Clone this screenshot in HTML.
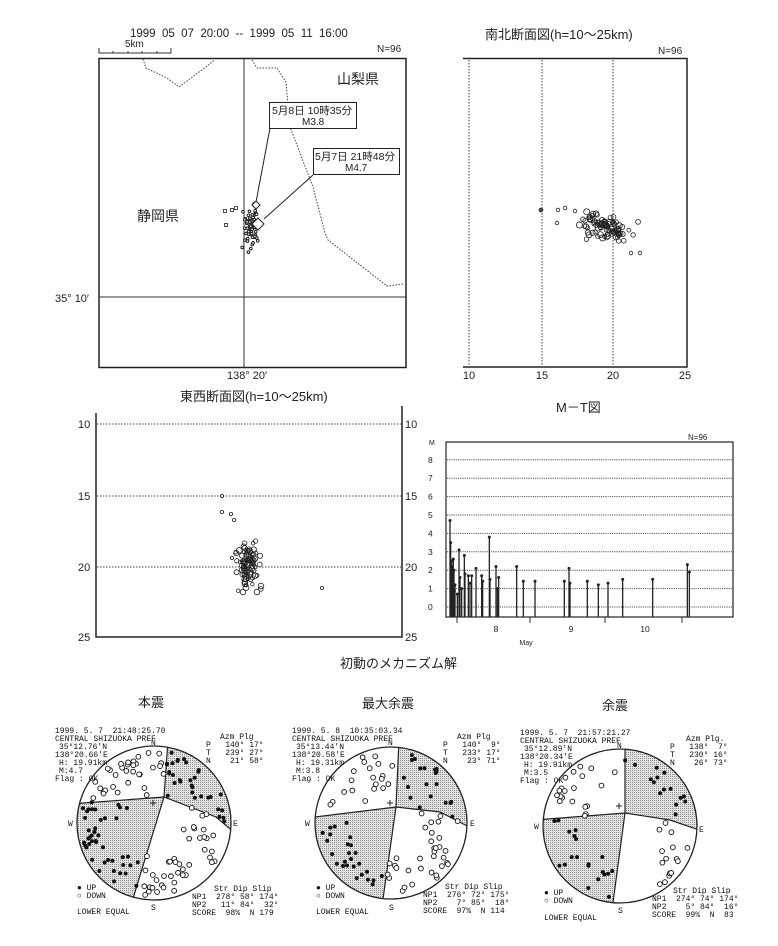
<!DOCTYPE html>
<html><head><meta charset="utf-8">
<style>
html,body{margin:0;padding:0;background:#fff;}
svg{display:block;}
text{white-space:pre;}
.j{font-family:"Liberation Sans","Noto Sans CJK JP",sans-serif;fill:#222;}
.s{font-family:"Liberation Sans",sans-serif;fill:#222;}
.m{font-family:"Liberation Mono",monospace;fill:#111;font-size:8px;}
</style></head><body>
<svg id="sv" width="778" height="946" viewBox="0 0 778 946" xmlns="http://www.w3.org/2000/svg" xml:space="preserve">
<defs>
<clipPath id="c1"><circle cx="154" cy="823" r="77"/></clipPath>
<clipPath id="c2"><circle cx="391" cy="823" r="76"/></clipPath>
<clipPath id="c3"><circle cx="620" cy="826" r="77"/></clipPath>
<pattern id="hat" width="2" height="2" patternUnits="userSpaceOnUse"><rect width="2" height="2" fill="#e4e4e4"/><rect width="1" height="1" fill="#8a8a8a"/></pattern>
</defs>

<!-- ===== MAP ===== -->
<text class="s" x="130" y="37" font-size="11.5">1999  05  07  20:00  --  1999  05  11  16:00</text>
<text class="s" x="125" y="47" font-size="10">5km</text>
<path d="M99,48 V53 H171 V48 M113,53 v-2 M128,53 v-2 M142,53 v-2 M157,53 v-2" stroke="#333" fill="none" stroke-width="1"/>
<text class="s" x="377" y="52" font-size="10">N=96</text>
<rect x="99" y="58.5" width="307" height="309" fill="none" stroke="#222" stroke-width="1.5"/>
<line x1="244" y1="59" x2="244" y2="367" stroke="#333"/>
<line x1="99" y1="297" x2="406" y2="297" stroke="#333"/>
<polyline points="143,59 146,68 167,78 179,87 215,60" fill="none" stroke="#444" stroke-dasharray="1.5,1.5"/>
<polyline points="252,60 257,68 277,68 286,82 290,127 313,187 325,233 328,240 387,286 404,284" fill="none" stroke="#444" stroke-dasharray="1.5,1.5"/>
<text class="j" x="337" y="84" font-size="14">山梨県</text>
<text class="j" x="137" y="221" font-size="14">静岡県</text>
<rect x="269.5" y="102.5" width="87" height="26" fill="#fff" stroke="#222"/>
<text class="j" x="272" y="114" font-size="10.5">5月8日 10時35分</text>
<text class="j" x="302" y="125" font-size="10">M3.8</text>
<rect x="313.5" y="148.5" width="86" height="26" fill="#fff" stroke="#222"/>
<text class="j" x="315" y="160" font-size="10.5">5月7日 21時48分</text>
<text class="j" x="345" y="171" font-size="10">M4.7</text>
<line x1="270" y1="128" x2="256" y2="202" stroke="#222"/>
<line x1="313" y1="175" x2="264" y2="219" stroke="#222"/>
<g id="mapdots"></g>
<path d="M256,201 l4,4 l-4,4 l-4,-4z" fill="#fff" stroke="#222"/>
<path d="M258,218 l6,6 l-6,6 l-6,-6z" fill="#fff" stroke="#222"/>
<text class="s" x="55" y="302" font-size="11">35° 10′</text>
<text class="s" x="227" y="379" font-size="11">138° 20′</text>

<!-- ===== N-S SECTION ===== -->
<text class="j" x="485" y="39" font-size="13">南北断面図(h=10～25km)</text>
<text class="s" x="658" y="54" font-size="10">N=96</text>
<path d="M463,58.5 H687 V367 H463" fill="none" stroke="#222" stroke-width="1.5"/>
<g stroke="#444" stroke-dasharray="1.5,1.5"><line x1="469" y1="60" x2="469" y2="366"/><line x1="542" y1="60" x2="542" y2="366"/><line x1="613" y1="60" x2="613" y2="366"/></g>
<g class="s" font-size="11" text-anchor="middle"><text x="469" y="379">10</text><text x="542" y="379">15</text><text x="613" y="379">20</text><text x="685" y="379">25</text></g>
<g id="nsdots"></g>

<!-- ===== E-W SECTION ===== -->
<text class="j" x="180" y="401" font-size="13">東西断面図(h=10～25km)</text>
<path d="M96,413 V637 H402 V406" fill="none" stroke="#222" stroke-width="1.5"/>
<g stroke="#444" stroke-dasharray="1.5,1.5"><line x1="97" y1="424" x2="401" y2="424"/><line x1="97" y1="496" x2="401" y2="496"/><line x1="97" y1="567" x2="401" y2="567"/></g>
<g class="s" font-size="11"><text x="78" y="428">10</text><text x="78" y="500">15</text><text x="78" y="571">20</text><text x="78" y="641">25</text>
<text x="405" y="428">10</text><text x="405" y="500">15</text><text x="405" y="571">20</text><text x="405" y="641">25</text></g>
<g id="ewdots"></g>

<!-- ===== M-T ===== -->
<text class="j" x="556" y="412" font-size="13">M－T図</text>
<text class="s" x="688" y="440" font-size="8">N=96</text>
<rect x="446" y="442" width="287" height="175" fill="none" stroke="#222" stroke-width="1.2"/>
<g id="mtgrid" stroke="#555" stroke-dasharray="1.2,1"></g>
<g class="s" font-size="8.5" id="mtlab"><text x="429" y="445" font-size="7">M</text></g>
<g id="mtbars"></g>
<g stroke="#333"><line x1="457" y1="617" x2="457" y2="623"/><line x1="530" y1="617" x2="530" y2="623"/><line x1="605" y1="617" x2="605" y2="623"/><line x1="682" y1="617" x2="682" y2="623"/></g>
<g class="s" font-size="8.5" text-anchor="middle"><text x="496" y="632">8</text><text x="571" y="632">9</text><text x="645" y="632">10</text><text x="526" y="645" font-size="7">May</text></g>

<!-- ===== MECHANISMS ===== -->
<text class="j" x="340" y="668" font-size="13">初動のメカニズム解</text>
<text class="j" x="138" y="707" font-size="13">本震</text>
<text class="j" x="362" y="708" font-size="13">最大余震</text>
<text class="j" x="602" y="710" font-size="13">余震</text>

<g id="mech"></g>

<g class="m">
<text x="55" y="733">1999. 5. 7  21:48:25.70</text>
<text x="55" y="741">CENTRAL SHIZUOKA PREF</text>
<text x="59" y="749">35°12.76'N</text>
<text x="55" y="757">138°20.66'E</text>
<text x="59" y="765">H: 19.91km</text>
<text x="59" y="773">M:4.7</text>
<text x="55" y="781">Flag : OK</text>
<text x="220" y="739">Azm Plg</text>
<text x="206" y="747">P   140° 17°</text>
<text x="206" y="755">T   239° 27°</text>
<text x="206" y="763">N    21° 58°</text>
<text x="214" y="891">Str Dip Slip</text>
<text x="192" y="899">NP1  278° 58° 174°</text>
<text x="192" y="907">NP2   11° 84°  32°</text>
<text x="192" y="915">SCORE  98%  N 179</text>
<text x="77" y="890">● UP</text>
<text x="77" y="898">○ DOWN</text>
<text x="77" y="914">LOWER EQUAL</text>
<text x="151" y="745">N</text><text x="151" y="910">S</text><text x="68" y="826">W</text><text x="233" y="826">E</text>

<text x="292" y="733">1999. 5. 8  10:35:03.34</text>
<text x="292" y="741">CENTRAL SHIZUOKA PREF</text>
<text x="296" y="749">35°13.44'N</text>
<text x="292" y="757">138°20.58'E</text>
<text x="296" y="765">H: 19.31km</text>
<text x="296" y="773">M:3.8</text>
<text x="292" y="781">Flag : OK</text>
<text x="457" y="739">Azm Plg</text>
<text x="443" y="747">P   140°  9°</text>
<text x="443" y="755">T   233° 17°</text>
<text x="443" y="763">N    23° 71°</text>
<text x="445" y="889">Str Dip Slip</text>
<text x="423" y="897">NP1  276° 72° 175°</text>
<text x="423" y="905">NP2    7° 85°  18°</text>
<text x="423" y="913">SCORE  97%  N 114</text>
<text x="316" y="890">● UP</text>
<text x="316" y="898">○ DOWN</text>
<text x="316" y="914">LOWER EQUAL</text>
<text x="388" y="745">N</text><text x="389" y="910">S</text><text x="305" y="826">W</text><text x="470" y="826">E</text>

<text x="520" y="735">1999. 5. 7  21:57:21.27</text>
<text x="520" y="743">CENTRAL SHIZUOKA PREF</text>
<text x="524" y="751">35°12.89'N</text>
<text x="520" y="759">138°20.34'E</text>
<text x="524" y="767">H: 19.91km</text>
<text x="524" y="775">M:3.5</text>
<text x="520" y="783">Flag : OK</text>
<text x="686" y="741">Azm Plg.</text>
<text x="670" y="749">P   138°  7°</text>
<text x="670" y="757">T   230° 16°</text>
<text x="670" y="765">N    26° 73°</text>
<text x="673" y="893">Str Dip Slip</text>
<text x="652" y="901">NP1  274° 74° 174°</text>
<text x="652" y="909">NP2    5° 84°  16°</text>
<text x="652" y="917">SCORE  99%  N  83</text>
<text x="544" y="895">● UP</text>
<text x="544" y="903">○ DOWN</text>
<text x="544" y="920">LOWER EQUAL</text>
<text x="617" y="748">N</text><text x="618" y="913">S</text><text x="534" y="829">W</text><text x="699" y="832">E</text>
</g>
</svg>
<script>
(function(){
var NS="http://www.w3.org/2000/svg";
var seed=12345;function r(){seed=(seed*16807)%2147483647;return (seed-1)/2147483646;}
function el(p,t,a){var e=document.createElementNS(NS,t);for(var k in a)e.setAttribute(k,a[k]);p.appendChild(e);return e;}
function g(id){return document.getElementById(id);}
function gauss(){return (r()+r()+r()-1.5)/1.5;}
var md=g("mapdots");
for(var i=0;i<70;i++){var x=251+gauss()*12,y=230+gauss()*28;el(md,"circle",{cx:x,cy:y,r:1.3,fill:"#fff",stroke:"#222","stroke-width":1});}
[[225,211],[232,210],[236,208],[226,225]].forEach(function(p){el(md,"rect",{x:p[0]-1.5,y:p[1]-1.5,width:3,height:3,fill:"#fff",stroke:"#222","stroke-width":0.8});});
var nd=g("nsdots");
for(var i=0;i<90;i++){var x=604+gauss()*36,y=228+gauss()*20+(x-604)*0.2;el(nd,"circle",{cx:x,cy:y,r:1.8+r()*1.3,fill:"none",stroke:"#222","stroke-width":0.8});}
el(nd,"circle",{cx:541,cy:210,r:1.8,fill:"#555",stroke:"#222"});
[[558,210],[565,208],[575,211],[557,223],[640,253],[631,253]].forEach(function(p){el(nd,"circle",{cx:p[0],cy:p[1],r:1.8,fill:"none",stroke:"#222","stroke-width":0.8});});
var ed=g("ewdots");
for(var i=0;i<85;i++){var x=248+gauss()*15,y=563+gauss()*32;el(ed,"circle",{cx:x,cy:y,r:1.7+r()*1.3,fill:"none",stroke:"#222","stroke-width":0.8});}
[[222,496],[222,512],[231,514],[234,520],[232,558],[322,588],[243,592],[257,592],[261,586]].forEach(function(p,k){el(ed,"circle",{cx:p[0],cy:p[1],r:k>5?2.8:1.6,fill:"none",stroke:"#222","stroke-width":0.8});});
var mg=g("mtgrid"),ml=g("mtlab");
for(var m=0;m<=8;m++){var y=607-m*18.4;el(mg,"line",{x1:447,y1:y,x2:732,y2:y});var t=el(ml,"text",{x:428,y:y+3});t.textContent=m;}
var bars=[[150,4.7],[152,3.5],[155,2.5],[157,2.2],[160,2.6],[162,2.0],[165,1.2],[172,0.7],[177,3.1],[180,1.6],[185,1.0],[193,2.8],[195,1.8],[205,1.7],[210,1.3],[215,1.7],[228,2.1],[245,1.7],[248,1.4],[268,3.8],[270,1.5],[288,2.2],[292,1.0],[296,1.6],[350,2.2],[370,1.4],[405,1.4],[493,1.4],[507,2.1],[510,1.3],[562,1.4],[595,1.2],[624,1.3],[668,1.5],[758,1.5],[862,2.3],[868,1.9],[153,1.9],[156,1.5],[158,1.2],[163,0.9]];
var mb=g("mtbars");
bars.forEach(function(b){var x=400+b[0]/3,y=607-b[1]*18.4;el(mb,"line",{x1:x,y1:617,x2:x,y2:y,stroke:"#222","stroke-width":1.3});el(mb,"circle",{cx:x,cy:y,r:1.5,fill:"#222"});});
var mech=[
 {c:[154,823],R:77,cl:"c1",L:[[168,740],[164,797],[131,905]],C:[[70,804],[164,797],[216,817],[236,834]]},
 {c:[391,823],R:76,cl:"c2",L:[[399,740],[396,807],[382,906]],C:[[307,818],[396,807],[440,812],[475,830]]},
 {c:[620,826],R:77,cl:"c3",L:[[625,742],[625,813],[612,910]],C:[[535,820],[625,813],[670,820],[705,832]]}];
var mp=g("mech");
function interp(pts,v,a,b){for(var i=0;i<pts.length-1;i++){var p=pts[i],q=pts[i+1];if((v>=p[a]&&v<=q[a])||(v<=p[a]&&v>=q[a])||i==pts.length-2){var t=(v-p[a])/((q[a]-p[a])||1);return p[b]+t*(q[b]-p[b]);}}}
mech.forEach(function(M,k){
 var cx=M.c[0],cy=M.c[1],R=M.R,L=M.L,C=M.C;
 var gg=el(mp,"g",{"clip-path":"url(#"+M.cl+")"});
 var ne="M"+L[1]+" L"+L[0]+" L"+(cx+100)+","+(cy-100)+" L"+(cx+100)+","+C[3][1]+" L"+C[3]+" L"+C[2]+" Z";
 var sw="M"+L[1]+" L"+C[0]+" L"+(cx-100)+","+C[0][1]+" L"+(cx-100)+","+(cy+100)+" L"+L[2][0]+","+(cy+100)+" L"+L[2]+" Z";
 el(gg,"path",{d:ne,fill:"url(#hat)"});el(gg,"path",{d:sw,fill:"url(#hat)"});
 el(gg,"polyline",{points:L.join(" "),fill:"none",stroke:"#222","stroke-width":1.2});
 el(gg,"polyline",{points:C.join(" "),fill:"none",stroke:"#222","stroke-width":1.2});
 el(mp,"circle",{cx:cx,cy:cy,r:R,fill:"none",stroke:"#222","stroke-width":1.3});
 el(mp,"path",{d:"M"+(cx-4)+","+(cy-20)+"h6m-3,-3v6",stroke:"#222"});
 var n=[150,100,70][k];
 for(var i=0;i<n;i++){
  var a=r()*Math.PI*2,rr=R*(0.35+0.6*Math.sqrt(r()));
  var x=cx+rr*Math.cos(a),y=cy+rr*Math.sin(a);
  var xl=interp(L,y,1,0),yc=interp(C,x,0,1);
  var east=x>xl,north=y<yc,sh=(east&&north)||(!east&&!north);
  if(sh)el(mp,"circle",{cx:x,cy:y,r:2,fill:"#111"});
  else el(mp,"circle",{cx:x,cy:y,r:2.4,fill:"#fff",stroke:"#111","stroke-width":0.9});
 }
});
})();
</script>
</body></html>
